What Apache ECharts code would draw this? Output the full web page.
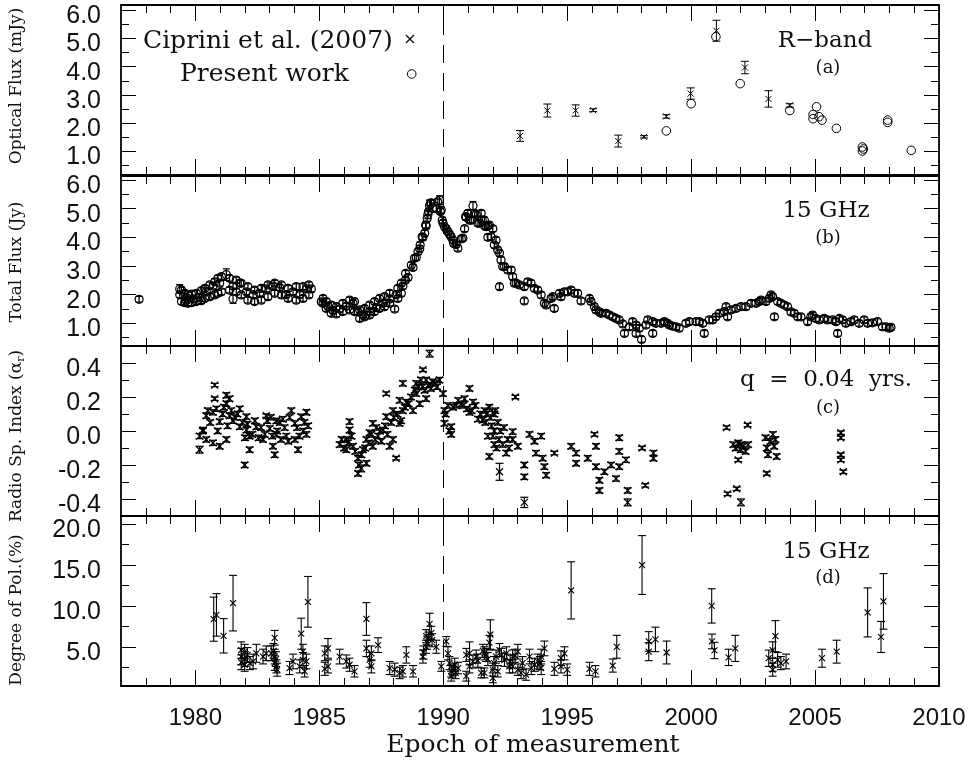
<!DOCTYPE html>
<html><head><meta charset="utf-8">
<script src="https://cdn.jsdelivr.net/npm/echarts@6/dist/echarts.min.js"></script>
<style>html,body{margin:0;padding:0;background:#fff}#c{width:969px;height:761px}</style>
</head><body><div id="c"></div>
<script>
// ---------- tick / label values ----------
const xMajorTicks = [1980, 1985, 1990, 1995, 2000, 2005, 2010];
const xMinorTicks = [1978, 1979, 1981, 1982, 1983, 1984, 1986, 1987, 1988, 1989, 1991, 1992, 1993, 1994, 1996, 1997, 1998, 1999, 2001, 2002, 2003, 2004, 2006, 2007, 2008, 2009];
const xLabels = [1980, 1985, 1990, 1995, 2000, 2005, 2010];
const fluxTicks = [1, 2, 3, 4, 5, 6];
const fluxMinor = [0.5, 1.5, 2.5, 3.5, 4.5, 5.5];
const alphaTicks = [-0.4, -0.2, 0, 0.2, 0.4];
const alphaMinor = [-0.3, -0.1, 0.1, 0.3];
const polTicks = [5, 10, 15, 20];
const polMinor = [2.5, 7.5, 12.5, 17.5];
const boundaryEpoch = 1990;

// ---------- panel (a): optical R-band flux (mJy) ----------
// [epoch, flux, error]
const ciprini2007 = [
  [1993.1, 1.55, 0.19], [1994.2, 2.45, 0.23], [1995.34, 2.45, 0.2], [1996.05, 2.46, 0.05],
  [1997.06, 1.37, 0.21], [1998.1, 1.52, 0.04], [1999.0, 2.24, 0.06], [1999.98, 3.05, 0.2],
  [2001.02, 5.27, 0.37], [2002.17, 3.97, 0.22], [2003.12, 2.86, 0.29], [2003.98, 2.63, 0.06]
];
const presentWork = [
  [1999.0, 1.73], [2000.0, 2.69], [2001.0, 5.06], [2001.98, 3.40], [2003.98, 2.45],
  [2005.06, 2.58], [2004.92, 2.31], [2004.92, 2.16], [2005.16, 2.23], [2005.28, 2.11],
  [2005.86, 1.82], [2006.91, 1.16], [2006.91, 1.02], [2006.95, 1.09], [2007.93, 2.11],
  [2007.93, 2.03], [2008.88, 1.04]
];

// ---------- panel (b): 15 GHz total flux (Jy) ----------
const flux15 = [
  [1977.73, 1.84, 0.1],
  [1979.37, 2.2, 0.15], [1979.37, 2.0, 0.1], [1979.64, 1.9, 0.1], [1979.64, 1.8, 0.1], [1979.91, 1.85, 0.1],
  [1980.17, 1.9, 0.1], [1980.44, 2.1, 0.1], [1980.71, 2.3, 0.1], [1980.98, 2.4, 0.1], [1981.25, 2.7, 0.2],
  [1981.52, 2.3, 0.1], [1981.52, 1.85, 0.15], [1981.79, 2.4, 0.1], [1982.06, 2.1, 0.1], [1982.33, 2.0, 0.1],
  [1982.59, 2.05, 0.1], [1982.86, 2.2, 0.1], [1983.13, 2.3, 0.1], [1983.4, 2.25, 0.1], [1983.67, 2.0, 0.1],
  [1983.94, 2.1, 0.1], [1984.21, 2.0, 0.1], [1984.48, 2.2, 0.1], [1984.68, 2.2, 0.1],
  [1979.44, 2.16, 0.1], [1979.44, 1.76, 0.1], [1979.57, 2.05, 0.1], [1979.57, 1.72, 0.1], [1979.7, 1.99, 0.1],
  [1979.7, 1.70, 0.1], [1979.84, 2.02, 0.1], [1979.84, 1.72, 0.1], [1980.04, 2.05, 0.1], [1980.04, 1.76, 0.1],
  [1980.24, 2.14, 0.1], [1980.24, 1.79, 0.1], [1980.38, 2.22, 0.1], [1980.38, 1.87, 0.1], [1980.58, 2.34, 0.1],
  [1980.58, 1.93, 0.1], [1980.78, 2.45, 0.1], [1980.78, 1.99, 0.1], [1980.91, 2.57, 0.1], [1980.91, 2.05, 0.1],
  [1981.05, 2.63, 0.1], [1981.05, 2.1, 0.1], [1981.38, 2.57, 0.1], [1981.38, 2.16, 0.1], [1981.65, 2.51, 0.1],
  [1981.65, 2.1, 0.1], [1981.85, 2.4, 0.1], [1981.85, 1.99, 0.1], [1982.12, 2.28, 0.1], [1982.12, 1.81, 0.1],
  [1982.39, 2.16, 0.1], [1982.39, 1.76, 0.1], [1982.66, 2.22, 0.1], [1982.66, 1.81, 0.1], [1982.93, 2.34, 0.1],
  [1982.93, 1.93, 0.1], [1983.2, 2.4, 0.1], [1983.2, 2.05, 0.1], [1983.47, 2.34, 0.1], [1983.47, 1.99, 0.1],
  [1983.74, 2.22, 0.1], [1983.74, 1.87, 0.1], [1984.07, 2.28, 0.1], [1984.07, 1.81, 0.1], [1984.34, 2.28, 0.1],
  [1984.34, 1.87, 0.1], [1984.58, 2.34, 0.1], [1984.58, 1.99, 0.1],
  [1985.08, 1.75, 0.1], [1985.35, 1.6, 0.1], [1985.55, 1.45, 0.1], [1985.82, 1.5, 0.1], [1986.09, 1.6, 0.1],
  [1986.36, 1.7, 0.1], [1986.56, 1.4, 0.1], [1986.76, 1.3, 0.1], [1987.03, 1.4, 0.1], [1987.3, 1.55, 0.1],
  [1987.57, 1.7, 0.1], [1987.84, 1.85, 0.1], [1988.04, 1.5, 0.1], [1988.1, 2.0, 0.1], [1988.37, 2.3, 0.1],
  [1985.15, 1.87, 0.1], [1985.15, 1.7, 0.1], [1985.28, 1.76, 0.1], [1985.28, 1.52, 0.1], [1985.48, 1.64, 0.1],
  [1985.48, 1.35, 0.1], [1985.69, 1.58, 0.1], [1985.69, 1.33, 0.1], [1985.95, 1.7, 0.1], [1985.95, 1.41, 0.1],
  [1986.22, 1.81, 0.1], [1986.22, 1.47, 0.1], [1986.42, 1.76, 0.1], [1986.42, 1.41, 0.1], [1986.63, 1.47, 0.1],
  [1986.63, 1.17, 0.1], [1986.83, 1.52, 0.1], [1986.83, 1.23, 0.1], [1987.03, 1.64, 0.1], [1987.03, 1.29, 0.1],
  [1987.23, 1.76, 0.1], [1987.23, 1.41, 0.1], [1987.43, 1.87, 0.1], [1987.43, 1.52, 0.1], [1987.63, 1.93, 0.1],
  [1987.63, 1.58, 0.1], [1987.84, 2.05, 0.1], [1987.84, 1.7, 0.1], [1988.17, 2.22, 0.1], [1988.17, 1.87, 0.1],
  [1988.31, 2.4, 0.1], [1988.31, 2.05, 0.1], [1988.48, 2.74, 0.1], [1988.48, 2.51, 0.1],
  [1988.58, 2.6, 0.1], [1988.78, 2.95, 0.1], [1988.91, 3.3, 0.1], [1989.05, 3.6, 0.1], [1989.18, 4.0, 0.1],
  [1989.31, 4.4, 0.1], [1989.38, 4.8, 0.15], [1989.45, 5.1, 0.2], [1989.52, 5.2, 0.1], [1989.72, 5.0, 0.1],
  [1989.85, 5.3, 0.15], [1989.92, 4.95, 0.1], [1989.99, 4.5, 0.1], [1990.12, 4.3, 0.1], [1990.26, 4.1, 0.1],
  [1990.39, 3.9, 0.1], [1990.52, 3.75, 0.1], [1990.73, 3.95, 0.1], [1990.86, 4.3, 0.1], [1990.93, 4.7, 0.1],
  [1991.06, 4.6, 0.1], [1991.2, 5.1, 0.15], [1991.33, 4.8, 0.1], [1991.47, 4.5, 0.1], [1991.67, 4.4, 0.1],
  [1988.71, 3.03, 0.1], [1988.84, 3.27, 0.1], [1988.98, 3.5, 0.1], [1989.07, 3.73, 0.1], [1989.15, 4.02, 0.1],
  [1989.25, 4.14, 0.1], [1989.29, 4.43, 0.1], [1989.35, 4.66, 0.1], [1989.41, 4.9, 0.1], [1989.48, 5.19, 0.1],
  [1989.58, 5.01, 0.1], [1989.78, 5.24, 0.1], [1989.88, 4.9, 0.1], [1989.96, 4.6, 0.1], [1990.05, 4.37, 0.1],
  [1990.19, 4.2, 0.1], [1990.32, 4.02, 0.1], [1990.42, 3.79, 0.1], [1990.59, 3.62, 0.1], [1990.79, 3.97, 0.1],
  [1990.9, 4.72, 0.1], [1990.99, 4.84, 0.1], [1991.13, 4.6, 0.1], [1991.26, 4.84, 0.1], [1991.4, 4.49, 0.1],
  [1991.57, 4.6, 0.1], [1991.73, 4.37, 0.1],
  [1991.8, 4.0, 0.1], [1991.53, 4.84, 0.1], [1991.8, 4.4, 0.1], [1992.0, 4.3, 0.1], [1992.13, 3.9, 0.1],
  [1992.27, 3.45, 0.1], [1992.27, 2.28, 0.1], [1992.47, 2.98, 0.1], [1992.74, 2.86, 0.1], [1992.94, 2.4, 0.1],
  [1991.66, 4.6, 0.1], [1991.86, 4.43, 0.1], [1991.93, 4.02, 0.1], [1992.06, 3.73, 0.1], [1992.2, 3.56, 0.1],
  [1992.33, 3.21, 0.1], [1992.4, 2.98, 0.1], [1992.6, 2.86, 0.1], [1992.8, 2.63, 0.1], [1992.87, 2.4, 0.1],
  [1993.07, 2.34, 0.1], [1993.41, 2.45, 0.1], [1993.68, 2.22, 0.1], [1993.95, 1.99, 0.1], [1994.15, 1.64, 0.1],
  [1994.42, 1.93, 0.1], [1994.69, 2.05, 0.1], [1994.89, 2.1, 0.1], [1995.16, 2.16, 0.1], [1995.42, 2.05, 0.1],
  [1993.27, 2.28, 0.1], [1993.27, 1.78, 0.1], [1993.54, 2.4, 0.1], [1993.81, 2.16, 0.1], [1994.08, 1.7, 0.1],
  [1994.35, 1.87, 0.1], [1994.48, 1.52, 0.1], [1994.75, 1.93, 0.1], [1995.02, 2.1, 0.1], [1995.29, 2.05, 0.1],
  [1995.56, 1.78, 0.1], [1995.9, 1.87, 0.1], [1996.1, 1.58, 0.1], [1996.3, 1.4, 0.1], [1996.57, 1.35, 0.1],
  [1995.96, 1.76, 0.1], [1996.16, 1.47, 0.1], [1996.37, 1.35, 0.1], [1996.7, 1.29, 0.1], [1996.97, 1.17, 0.1],
  [1997.24, 0.98, 0.1], [1997.64, 1.06, 0.1], [1997.91, 0.83, 0.1], [1998.25, 1.12, 0.1], [1998.58, 1.0, 0.1],
  [1998.92, 1.06, 0.1], [1999.12, 0.94, 0.1], [1999.39, 0.88, 0.1], [1999.79, 1.0, 0.1], [2000.2, 1.06, 0.1],
  [1996.84, 1.23, 0.1], [1997.1, 1.12, 0.1], [1997.31, 0.65, 0.1], [1997.51, 0.88, 0.1], [1997.78, 0.94, 0.1],
  [1997.78, 0.65, 0.1], [1998.0, 0.44, 0.1], [1998.18, 0.94, 0.1], [1998.45, 1.06, 0.1], [1998.45, 0.65, 0.1],
  [1998.79, 1.0, 0.1], [1999.05, 1.0, 0.1], [1999.26, 0.9, 0.1], [1999.52, 0.83, 0.1], [1999.93, 1.06, 0.1],
  [2000.33, 1.06, 0.1], [2000.53, 0.65, 0.1], [2000.73, 1.12, 0.1], [2001.0, 1.23, 0.1], [2001.41, 1.58, 0.1],
  [2000.47, 1.0, 0.1], [2000.87, 1.12, 0.1], [2001.14, 1.35, 0.1], [2001.34, 1.41, 0.1], [2001.61, 1.47, 0.1],
  [2002.01, 1.58, 0.1], [2002.42, 1.7, 0.1], [2002.75, 1.76, 0.1], [2003.15, 1.87, 0.1], [2003.22, 1.99, 0.1],
  [2001.47, 1.23, 0.1], [2001.81, 1.52, 0.1], [2002.21, 1.58, 0.1], [2002.62, 1.7, 0.1], [2002.82, 1.81, 0.1],
  [2003.02, 1.76, 0.1], [2003.29, 1.93, 0.1], [2003.36, 1.23, 0.1], [2003.49, 1.76, 0.1], [2003.76, 1.64, 0.1],
  [2003.62, 1.7, 0.1], [2003.89, 1.58, 0.1], [2004.16, 1.35, 0.1], [2004.43, 1.23, 0.1], [2004.83, 1.23, 0.1],
  [2005.03, 1.17, 0.1], [2005.37, 1.17, 0.1], [2005.71, 1.12, 0.1], [2005.98, 1.17, 0.1], [2006.24, 1.0, 0.1],
  [2006.58, 1.12, 0.1], [2006.98, 1.12, 0.1], [2007.32, 1.02, 0.1], [2007.86, 0.88, 0.1], [2008.06, 0.86, 0.1],
  [2004.03, 1.4, 0.1], [2004.3, 1.23, 0.1], [2004.7, 1.06, 0.1], [2004.9, 1.29, 0.1], [2005.17, 1.12, 0.1],
  [2005.5, 1.12, 0.1], [2005.84, 1.06, 0.1], [2005.91, 0.65, 0.1], [2006.11, 1.12, 0.1], [2006.45, 1.06, 0.1],
  [2006.78, 1.0, 0.1], [2007.12, 1.0, 0.1], [2007.52, 1.06, 0.1], [2007.72, 0.88, 0.1], [2007.99, 0.83, 0.1]
];

// ---------- panel (c): radio spectral index ----------
const specIndex = [
  [1980.17, -0.03, 0.015], [1980.17, -0.11, 0.02], [1980.31, 0.006, 0.015], [1980.44, 0.09, 0.015], [1980.44, -0.05, 0.015],
  [1980.71, 0.11, 0.015], [1980.71, -0.07, 0.015], [1980.78, 0.27, 0.01], [1980.78, 0.19, 0.01], [1980.98, 0.055, 0.015],
  [1980.98, -0.09, 0.015], [1981.25, 0.21, 0.015], [1981.25, 0.16, 0.015], [1981.25, -0.05, 0.015], [1981.38, 0.19, 0.015],
  [1981.38, 0.09, 0.015], [1981.52, 0.06, 0.015], [1981.79, 0.13, 0.015], [1981.79, 0.025, 0.015], [1981.99, -0.2, 0.015],
  [1982.06, 0.084, 0.015], [1982.06, 0.006, 0.015], [1982.19, -0.11, 0.015], [1982.19, -0.03, 0.015], [1982.46, 0.025, 0.015],
  [1982.73, -0.05, 0.015], [1982.86, 0.09, 0.01], [1983.0, 0.015, 0.015], [1983.13, -0.09, 0.015], [1983.2, -0.14, 0.015],
  [1983.27, 0.06, 0.015], [1983.27, -0.02, 0.015], [1983.53, 0.07, 0.015], [1983.67, -0.03, 0.015], [1983.87, 0.12, 0.015],
  [1984.01, 0.045, 0.015], [1984.01, -0.05, 0.015], [1984.14, -0.11, 0.015], [1984.27, 0.084, 0.015], [1984.48, 0.11, 0.015],
  [1984.48, -0.02, 0.015],
  [1980.3, 0.0, 0.015], [1980.5, 0.12, 0.015], [1980.6, 0.05, 0.015], [1980.85, 0.13, 0.015], [1980.9, 0.0, 0.015],
  [1981.1, 0.1, 0.015], [1981.15, 0.14, 0.015], [1981.3, 0.03, 0.015], [1981.45, 0.12, 0.015], [1981.6, 0.08, 0.015],
  [1981.7, 0.1, 0.015], [1981.9, 0.05, 0.015], [1982.0, -0.04, 0.015], [1982.1, 0.04, 0.015], [1982.3, -0.02, 0.015],
  [1982.4, 0.06, 0.015], [1982.55, -0.04, 0.015], [1982.65, 0.02, 0.015], [1982.8, -0.02, 0.015], [1982.9, 0.06, 0.015],
  [1983.05, 0.08, 0.015], [1983.1, -0.03, 0.015], [1983.3, 0.0, 0.015], [1983.4, 0.05, 0.015], [1983.45, -0.05, 0.015],
  [1983.6, 0.02, 0.015], [1983.75, -0.06, 0.015], [1983.8, 0.08, 0.015], [1984.1, 0.02, 0.015], [1984.2, -0.03, 0.015],
  [1984.35, 0.0, 0.015], [1984.4, 0.05, 0.015], [1984.55, 0.03, 0.015],
  [1985.82, -0.08, 0.015], [1986.09, -0.11, 0.015], [1986.09, -0.05, 0.015], [1986.22, 0.055, 0.015], [1986.22, 0.006, 0.015],
  [1986.36, -0.09, 0.015], [1986.56, -0.16, 0.015], [1986.56, -0.25, 0.015], [1986.69, -0.22, 0.02], [1986.76, -0.11, 0.015],
  [1986.9, -0.05, 0.015], [1986.9, -0.19, 0.015], [1987.03, -0.01, 0.015], [1987.16, 0.045, 0.015], [1987.16, -0.09, 0.015],
  [1987.37, -0.03, 0.015], [1987.57, 0.006, 0.015], [1987.7, 0.22, 0.01], [1987.7, 0.084, 0.015], [1987.84, -0.09, 0.015],
  [1987.97, 0.12, 0.015], [1987.97, -0.05, 0.015], [1988.1, -0.16, 0.01], [1988.24, 0.18, 0.015], [1988.24, 0.045, 0.015],
  [1988.37, 0.28, 0.015], [1988.37, 0.12, 0.015], [1988.51, 0.17, 0.015], [1988.78, 0.12, 0.015], [1988.91, 0.28, 0.015],
  [1988.91, 0.22, 0.015], [1989.05, 0.16, 0.015], [1989.18, 0.36, 0.01], [1989.18, 0.26, 0.015], [1989.31, 0.3, 0.015],
  [1989.31, 0.19, 0.015], [1989.45, 0.455, 0.02], [1989.58, 0.29, 0.015], [1989.85, 0.3, 0.015], [1989.99, 0.22, 0.015],
  [1985.9, -0.05, 0.015], [1986.0, -0.1, 0.015], [1986.15, -0.07, 0.015], [1986.3, -0.03, 0.015], [1986.45, -0.12, 0.015],
  [1986.6, -0.2, 0.015], [1986.7, -0.14, 0.015], [1986.85, -0.1, 0.015], [1987.0, -0.07, 0.015], [1987.1, -0.02, 0.015],
  [1987.25, -0.05, 0.015], [1987.3, 0.02, 0.015], [1987.45, 0.0, 0.015], [1987.5, -0.06, 0.015], [1987.65, 0.03, 0.015],
  [1987.75, -0.02, 0.015], [1987.9, 0.05, 0.015], [1988.0, 0.08, 0.015], [1988.15, 0.1, 0.015], [1988.3, 0.06, 0.015],
  [1988.45, 0.14, 0.015], [1988.6, 0.16, 0.015], [1988.7, 0.2, 0.015], [1988.85, 0.24, 0.015], [1989.0, 0.26, 0.015],
  [1989.1, 0.3, 0.015], [1989.25, 0.24, 0.015], [1989.4, 0.27, 0.015], [1989.5, 0.25, 0.015], [1989.65, 0.28, 0.015],
  [1989.75, 0.26, 0.015],
  [1990.05, 0.12, 0.015], [1990.05, 0.045, 0.015], [1990.19, 0.15, 0.015], [1990.32, 0.025, 0.015], [1990.32, -0.02, 0.015],
  [1990.52, 0.15, 0.015], [1990.73, 0.16, 0.015], [1990.86, 0.19, 0.015], [1991.06, 0.25, 0.015], [1991.06, 0.11, 0.015],
  [1991.2, 0.17, 0.015], [1991.4, 0.07, 0.015], [1991.67, 0.12, 0.015], [1991.8, -0.03, 0.015],
  [1990.1, 0.1, 0.015], [1990.25, 0.0, 0.015], [1990.4, 0.14, 0.015], [1990.6, 0.18, 0.015], [1990.8, 0.15, 0.015],
  [1990.95, 0.13, 0.015], [1991.15, 0.12, 0.015], [1991.3, 0.15, 0.015], [1991.5, 0.1, 0.015], [1991.7, 0.05, 0.015],
  [1991.75, 0.1, 0.015], [1991.9, 0.08, 0.015], [1991.95, 0.03, 0.015], [1992.0, -0.03, 0.015], [1992.1, 0.12, 0.015],
  [1992.15, -0.1, 0.015], [1992.2, 0.05, 0.015], [1992.25, -0.05, 0.015], [1992.3, 0.0, 0.015], [1992.4, -0.08, 0.015],
  [1992.45, 0.02, 0.015], [1992.6, -0.05, 0.015], [1992.65, -0.1, 0.015],
  [1991.59, 0.064, 0.015], [1991.86, 0.14, 0.015], [1991.86, -0.15, 0.015], [1992.06, 0.1, 0.015], [1992.06, 0.0, 0.015],
  [1992.06, -0.08, 0.015], [1992.27, -0.24, 0.05], [1992.54, -0.13, 0.015], [1992.8, -0.004, 0.015], [1992.8, -0.05, 0.015],
  [1992.91, 0.2, 0.01], [1993.01, -0.09, 0.015], [1993.27, -0.2, 0.015], [1993.27, -0.27, 0.015], [1993.27, -0.42, 0.03],
  [1993.48, -0.02, 0.015], [1993.68, -0.06, 0.015], [1993.74, -0.13, 0.015], [1993.95, -0.03, 0.015], [1994.01, -0.16, 0.015],
  [1994.08, -0.21, 0.015], [1994.15, -0.26, 0.015], [1994.48, -0.13, 0.01], [1995.16, -0.09, 0.015], [1995.36, -0.13, 0.015],
  [1995.36, -0.19, 0.015], [1995.83, -0.16, 0.015], [1996.1, -0.02, 0.01], [1996.16, -0.09, 0.015], [1996.16, -0.21, 0.015],
  [1996.3, -0.29, 0.015], [1996.3, -0.35, 0.015], [1996.5, -0.24, 0.015], [1996.77, -0.2, 0.015], [1996.97, -0.28, 0.015],
  [1997.1, -0.04, 0.015], [1997.1, -0.12, 0.015], [1997.1, -0.21, 0.015], [1997.37, -0.17, 0.015], [1997.44, -0.35, 0.015],
  [1997.44, -0.42, 0.02], [1998.02, -0.1, 0.01], [1998.15, -0.32, 0.01], [1998.48, -0.13, 0.015], [1998.48, -0.16, 0.015],
  [2001.43, 0.02, 0.01], [2001.47, -0.37, 0.01], [2001.84, -0.34, 0.01], [2002.01, -0.08, 0.015], [2002.01, -0.42, 0.02],
  [2002.28, 0.035, 0.01], [2001.9, -0.17, 0.01], [2001.7, -0.08, 0.015], [2001.8, -0.1, 0.015], [2001.9, -0.07, 0.015],
  [2002.0, -0.11, 0.015], [2002.1, -0.09, 0.015], [2002.2, -0.12, 0.015], [2002.3, -0.08, 0.015],
  [2003.0, -0.04, 0.015], [2003.05, -0.1, 0.015], [2003.1, -0.14, 0.015], [2003.2, -0.06, 0.015], [2003.3, -0.02, 0.015],
  [2003.35, -0.09, 0.015], [2003.45, -0.15, 0.015], [2003.4, -0.05, 0.015], [2003.05, -0.25, 0.01],
  [2006.04, -0.01, 0.01], [2006.04, -0.04, 0.01], [2006.04, -0.14, 0.01], [2006.04, -0.17, 0.01], [2006.14, -0.24, 0.01]
];

// ---------- panel (d): 15 GHz degree of polarisation (%) ----------
const polDegree = [
  [1980.74, 8.38, 2.7], [1980.85, 8.9, 2.6], [1981.14, 6.34, 2.1], [1981.52, 10.34, 3.4],
  [1981.85, 4.6, 1.0], [1981.85, 3.8, 1.0], [1981.85, 3.1, 0.9], [1981.99, 4.4, 0.9], [1981.99, 2.8, 0.8],
  [1982.0, 3.5, 0.9], [1982.1, 4.0, 0.9], [1982.2, 3.0, 0.8],
  [1982.33, 3.2, 0.9], [1982.46, 4.2, 1.1], [1982.73, 3.8, 0.9], [1982.86, 4.2, 0.9], [1983.06, 4.2, 0.9],
  [1983.2, 6.1, 0.9], [1983.2, 3.8, 0.9], [1983.2, 3.0, 0.9], [1983.27, 2.6, 0.8], [1983.8, 2.4, 0.8],
  [1983.15, 4.5, 0.9], [1983.25, 3.5, 0.9], [1983.3, 2.2, 0.8],
  [1983.94, 3.2, 0.9], [1984.21, 2.6, 0.8], [1984.27, 6.6, 1.9], [1984.34, 4.4, 0.9], [1984.34, 3.4, 0.9],
  [1984.41, 2.0, 0.7], [1984.48, 3.2, 0.9], [1984.54, 10.5, 3.1],
  [1985.22, 4.2, 0.9], [1985.22, 2.3, 0.8], [1985.35, 2.6, 0.8], [1985.35, 4.8, 1.2], [1985.82, 3.8, 0.9],
  [1986.09, 3.2, 0.8], [1986.22, 2.8, 0.8], [1986.42, 2.0, 0.7], [1986.9, 8.4, 2.0], [1986.9, 4.8, 1.0],
  [1987.03, 3.4, 0.9], [1987.1, 4.2, 0.9], [1987.1, 2.6, 0.8], [1987.37, 5.2, 0.9], [1987.84, 2.4, 0.8],
  [1988.04, 2.2, 0.8], [1988.24, 1.8, 0.7], [1988.37, 2.0, 0.7], [1988.51, 4.0, 1.0], [1988.78, 2.0, 0.7],
  [1989.18, 3.8, 0.8], [1989.31, 5.0, 0.8], [1989.31, 6.3, 0.8], [1989.45, 7.8, 1.3], [1989.52, 6.7, 0.8],
  [1989.2, 4.3, 0.8], [1989.35, 5.5, 0.8], [1989.4, 6.0, 0.8], [1989.55, 5.8, 0.8],
  [1989.72, 5.0, 0.8], [1989.92, 2.6, 0.6], [1990.12, 5.65, 0.6], [1990.19, 4.2, 0.8], [1990.32, 2.0, 0.7],
  [1990.32, 1.4, 0.6], [1990.46, 2.8, 0.8], [1990.93, 4.0, 0.8], [1990.93, 1.4, 0.6], [1991.06, 4.2, 1.4],
  [1990.25, 3.0, 0.8], [1990.4, 2.2, 0.7], [1990.5, 1.8, 0.7], [1990.6, 2.4, 0.7],
  [1991.06, 2.6, 0.8], [1991.33, 3.8, 0.8], [1991.53, 1.8, 0.6], [1991.73, 4.0, 0.8],
  [1991.2, 3.2, 0.8], [1991.4, 3.3, 0.8], [1991.6, 4.5, 0.8], [1991.8, 3.5, 0.8],
  [1991.66, 4.2, 0.8], [1991.66, 1.8, 0.6], [1991.9, 6.5, 1.8], [1991.86, 5.5, 0.9], [1992.0, 2.2, 0.8],
  [1992.05, 3.0, 0.8], [1992.2, 2.0, 0.7], [1992.35, 4.0, 0.8], [1992.55, 4.2, 0.8], [1992.7, 3.2, 0.8],
  [1992.9, 3.9, 0.8], [1993.2, 3.0, 0.8], [1993.55, 2.4, 0.8], [1993.9, 3.0, 0.8],
  [1992.0, 1.2, 0.6], [1992.13, 3.8, 0.8], [1992.27, 4.6, 0.8], [1992.47, 3.4, 0.8], [1992.67, 2.6, 0.8],
  [1992.8, 3.8, 0.8], [1992.8, 2.6, 0.8], [1993.01, 4.4, 0.9], [1993.01, 2.2, 0.7], [1993.14, 1.8, 0.7],
  [1993.34, 1.6, 0.7], [1993.48, 3.8, 0.9], [1993.68, 2.8, 0.8], [1993.81, 3.2, 0.9], [1993.95, 3.8, 0.9],
  [1993.95, 2.4, 0.8], [1994.08, 4.8, 0.9], [1994.48, 2.3, 0.8], [1994.75, 2.6, 0.8], [1994.75, 3.6, 0.9],
  [1994.89, 4.2, 0.8], [1995.0, 2.2, 0.7], [1995.16, 11.9, 3.5], [1995.9, 2.3, 0.8], [1996.14, 2.0, 0.7],
  [1996.84, 2.7, 0.8], [1997.0, 5.0, 1.4], [1998.02, 15.0, 3.6], [1998.29, 5.65, 1.2], [1998.29, 4.4, 1.1],
  [1998.56, 5.9, 1.5], [1999.01, 4.3, 1.4], [2000.83, 10.0, 2.1], [2000.84, 5.65, 0.9], [2000.94, 4.55, 1.0],
  [2001.51, 3.7, 1.0], [2001.78, 4.8, 1.6], [2003.13, 3.6, 1.0], [2003.29, 4.6, 1.0], [2003.29, 2.8, 0.8],
  [2003.29, 2.2, 0.8], [2003.4, 6.3, 1.9], [2003.49, 3.4, 0.9], [2003.62, 3.0, 0.8], [2003.83, 3.2, 0.9],
  [2005.28, 3.6, 1.1], [2005.87, 4.4, 1.4], [2007.12, 9.2, 3.0], [2007.66, 6.2, 1.9], [2007.76, 10.55, 3.4]
];

// ---------- layout ----------
const X_MIN = 1977, X_MAX = 2010;
const gridTops = [5, 176, 346, 516];
const GRID_H = 170;
const yRanges = [[0.17, 6.18], [0.21, 6.14], [-0.5, 0.5], [0.2, 21.0]];
const yMajors = [fluxTicks, fluxTicks, alphaTicks, polTicks];
const yMinors = [fluxMinor, fluxMinor, alphaMinor, polMinor];

const INK = '#000';
const LABEL_FONT = 'Liberation Sans, Arial, sans-serif';
const SERIF = '"DejaVu Serif", serif';

const grids = gridTops.map(t => ({ left: 121, right: 30, top: t, height: GRID_H, containLabel: false, outerBoundsMode: 'none' }));

const xAxes = [], yAxes = [];
for (let p = 0; p < 4; p++) {
  const bx = { type: 'value', gridIndex: p, min: X_MIN, max: X_MAX, splitLine: { show: false }, axisLabel: { show: false } };
  const line = { show: true, onZero: false, lineStyle: { color: INK, width: 1.8 } };
  const noLine = { show: false, onZero: false };
  const tick = (vals, len) => ({ show: true, inside: true, length: len, customValues: vals, lineStyle: { color: INK, width: 1 } });
  xAxes.push(Object.assign({}, bx, {
    position: 'bottom', axisLine: line, axisTick: tick(xMajorTicks, 16),
    axisLabel: p === 3 ? { show: true, customValues: xLabels, margin: 20, fontSize: 24, color: '#111', fontFamily: LABEL_FONT,
      formatter: v => String(Math.round(v)) } : { show: false }
  }));
  xAxes.push(Object.assign({}, bx, { position: 'bottom', axisLine: noLine, axisTick: tick(xMinorTicks, 8) }));
  xAxes.push(Object.assign({}, bx, { position: 'top', axisLine: line, axisTick: tick(xMajorTicks, 16) }));
  xAxes.push(Object.assign({}, bx, { position: 'top', axisLine: noLine, axisTick: tick(xMinorTicks, 8) }));

  const by = { type: 'value', gridIndex: p, min: yRanges[p][0], max: yRanges[p][1], splitLine: { show: false }, axisLabel: { show: false } };
  yAxes.push(Object.assign({}, by, {
    position: 'left', axisLine: line, axisTick: tick(yMajors[p], 15),
    axisLabel: { show: true, customValues: yMajors[p], margin: 20, fontSize: 25, color: '#111', fontFamily: LABEL_FONT,
      verticalAlign: 'top', lineHeight: 12, formatter: v => Number(v).toFixed(1) }
  }));
  yAxes.push(Object.assign({}, by, { position: 'left', axisLine: noLine, axisTick: tick(yMinors[p], 8) }));
  yAxes.push(Object.assign({}, by, { position: 'right', axisLine: line, axisTick: tick(yMajors[p], 15) }));
  yAxes.push(Object.assign({}, by, { position: 'right', axisLine: noLine, axisTick: tick(yMinors[p], 8) }));
}

function markerRender(kind, size, cap, lw) {
  return function (params, api) {
    const x = api.value(0), y = api.value(1), e = api.value(2) || 0;
    const c = api.coord([x, y]);
    const st = { stroke: INK, lineWidth: lw, fill: null };
    const ch = [];
    if (e > 0) {
      const hi = api.coord([x, y + e]), lo = api.coord([x, y - e]);
      ch.push({ type: 'line', shape: { x1: c[0], y1: hi[1], x2: c[0], y2: lo[1] }, style: st });
      ch.push({ type: 'line', shape: { x1: c[0] - cap, y1: hi[1], x2: c[0] + cap, y2: hi[1] }, style: st });
      ch.push({ type: 'line', shape: { x1: c[0] - cap, y1: lo[1], x2: c[0] + cap, y2: lo[1] }, style: st });
    }
    if (kind === 'x') {
      ch.push({ type: 'line', shape: { x1: c[0] - size, y1: c[1] - size, x2: c[0] + size, y2: c[1] + size }, style: st });
      ch.push({ type: 'line', shape: { x1: c[0] - size, y1: c[1] + size, x2: c[0] + size, y2: c[1] - size }, style: st });
    } else {
      ch.push({ type: 'circle', shape: { cx: c[0], cy: c[1], r: size }, style: { stroke: INK, lineWidth: lw, fill: null } });
    }
    return { type: 'group', children: ch };
  };
}

const dashed = {
  symbol: 'none', silent: true, label: { show: false },
  lineStyle: { type: [18, 10], color: INK, width: 1 },
  emphasis: { disabled: true },
  data: [{ xAxis: boundaryEpoch }]
};

function customSeries(p, data, kind, size, cap, lw, withLine) {
  const s = {
    type: 'custom', xAxisIndex: 4 * p, yAxisIndex: 4 * p, data: data, clip: true,
    encode: { x: 0, y: 1 }, renderItem: markerRender(kind, size, cap, lw), silent: true
  };
  if (withLine) s.markLine = dashed;
  return s;
}

const series = [
  customSeries(0, ciprini2007, 'x', 3, 4, 1, true),
  customSeries(0, presentWork, 'o', 4.3, 0, 1, false),
  customSeries(1, flux15, 'o', 4, 3.5, 1.25, true),
  customSeries(2, specIndex, 'x', 3.5, 4, 1.25, true),
  customSeries(3, polDegree, 'x', 3, 4, 1.1, true)
];

function txt(text, x, y, size, align, extra) {
  return Object.assign({ type: 'text', x: x, y: y, silent: true,
    style: { text: text, font: size + 'px ' + SERIF, fill: '#111', align: align || 'center', verticalAlign: 'middle' } }, extra || {});
}

const graphics = [
  txt('Ciprini et al. (2007)', 143, 41, 25, 'left'),
  { type: 'text', x: 410, y: 40, silent: true, style: { text: '×', font: '16px "DejaVu Sans"', fill: '#111', align: 'center', verticalAlign: 'middle' } },
  txt('Present work', 180, 74, 25, 'left'),
  { type: 'circle', silent: true, shape: { cx: 411.7, cy: 74, r: 4.3 }, style: { stroke: INK, lineWidth: 1, fill: null } },
  txt('R\u2212band', 825, 41, 23),
  txt('(a)', 828, 68, 18),
  txt('15 GHz', 826, 211, 23),
  txt('(b)', 828, 238, 18),
  txt('q  =  0.04  yrs.', 826, 380, 23),
  txt('(c)', 828, 408, 18),
  txt('15 GHz', 826, 552, 23),
  txt('(d)', 828, 578, 18),
  txt('Epoch of measurement', 533, 745, 25),
  txt('Optical Flux (mJy)', 17, 86, 17, 'center', { rotation: Math.PI / 2 }),
  txt('Total Flux (Jy)', 17, 262, 17, 'center', { rotation: Math.PI / 2 }),
  { type: 'text', x: 17, y: 436, rotation: Math.PI / 2, silent: true,
    style: { text: 'Radio Sp. Index (α{s|r})', font: '17px ' + SERIF, fill: '#111', align: 'center', verticalAlign: 'middle',
      rich: { s: { font: '11px ' + SERIF, fill: '#111', verticalAlign: 'bottom', padding: [8, 0, 0, 0] } } } },
  txt('Degree of Pol.(%)', 17, 610, 17, 'center', { rotation: Math.PI / 2 })
];

const chart = echarts.init(document.getElementById('c'), null, { renderer: 'canvas' });
chart.setOption({
  animation: false,
  backgroundColor: '#fff',
  grid: grids,
  xAxis: xAxes,
  yAxis: yAxes,
  series: series,
  graphic: graphics
});
</script>
</body></html>
